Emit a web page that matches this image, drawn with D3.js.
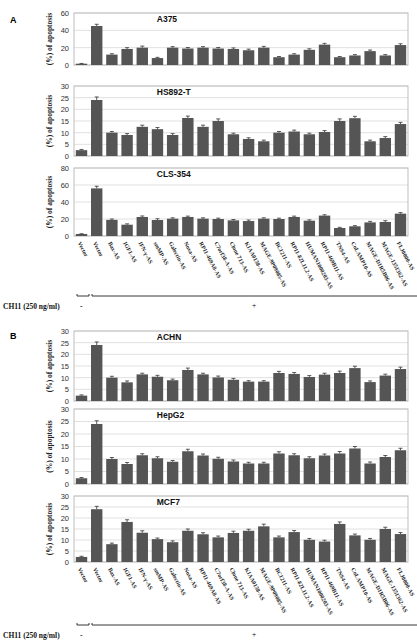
<!DOCTYPE html>
<html>
<head>
<meta charset="utf-8">
<script src="https://cdn.jsdelivr.net/npm/d3@7"></script>
<style>
  html,body{margin:0;padding:0;background:#fff;}
  svg{display:block;}
</style>
</head>
<body>
<div id="chart"></div>
<script>
// categories (same for all six panels)
const categories = ["Vector","Vector","Bax-AS","IGF1-AS","IFN-γ-AS","smMP-AS","Galectin-AS","Noxa-AS",
  "RP11-469A8-AS","C7orf38-A-AS","Clone 713-AS","KIAA0138-AS","MAGE-9P09085-AS","BC1211-AS",
  "RP11-82L11.2-AS","HUMAN1000203-AS","RP11-469B11-AS","TNS4-AS","CoLAMP10-AS","MAGE-D1R5B06-AS",
  "MAGE-1351362-AS","FLJ0000-AS"];

// % apoptosis per cell line
const a375    = [1.5,45,12,18.5,20,8,20,19,20,19,18.5,17,20,9,12,17.5,23.5,9,11,16,11,23];
const a375Err = [0.3,2,1,1.5,1.8,0.8,1.2,1.2,1.2,1.2,1.2,1.3,1.5,0.8,1,1.2,1.5,0.8,1,1.3,1,1.5];
const hs892    = [2.5,24,10,9,12.5,11.5,9,16.3,12.5,15,9.3,7.3,6.3,10,10.5,9.3,10.3,15,16.2,6.3,7.7,13.7];
const hs892Err = [0.3,1.3,0.5,0.6,0.7,0.7,0.6,0.8,0.7,0.9,0.5,0.5,0.5,0.5,0.6,0.5,0.6,0.9,0.8,0.5,0.6,0.7];
const cls354    = [2.4,56,19,13.3,22.4,18.8,20.4,22.4,20.4,20,18.4,17.6,20.4,20,22.4,18,24,9.4,11.4,16,16.5,26.3];
const cls354Err = [0.3,2.5,1,1,1.2,1.5,1,1,1,1,1,1.2,1,1,1,1,1,0.8,0.8,1.2,1.5,1.2];
const achn    = [2.3,24,10,8,11.4,10.4,8.9,13.3,11.4,10.1,9.1,8.3,8.3,12,11.6,10.3,11.3,12,14.1,8.1,10.9,13.7];
const achnErr = [0.3,1.3,0.6,0.6,0.5,0.6,0.5,0.8,0.5,0.6,0.6,0.4,0.4,0.7,0.6,0.6,0.6,0.8,0.8,0.5,0.6,0.8];
const hepg2    = [2.3,24,10,8,11.5,10.3,8.9,13.1,11.4,10.1,9,8.2,8.2,12.2,11.5,10.3,11.4,12.2,14.2,8.2,10.8,13.5];
const hepg2Err = [0.3,1.3,0.6,0.6,0.6,0.6,0.5,0.8,0.6,0.6,0.6,0.5,0.5,0.7,0.6,0.6,0.6,0.8,0.8,0.6,0.6,0.8];
const mcf7    = [2.3,24,8.1,18.2,13.3,10.4,9,14.2,12.6,11.2,13.2,14.2,16.2,11.2,13.6,10.1,9.3,17.3,12.1,10.1,15,12.7];
const mcf7Err = [0.3,1.3,0.5,1,0.9,0.5,0.6,0.8,0.7,0.6,0.8,0.7,1,0.6,0.7,0.6,0.6,0.9,0.6,0.6,0.8,0.7];

const W = 417, H = 641;
const svg = d3.select("#chart").append("svg").attr("width", W).attr("height", H);
const x = d3.scaleBand().domain(d3.range(categories.length)).range([74, 408]).paddingInner(0.25).paddingOuter(0.12);

const SANS = "'Liberation Sans', Arial, sans-serif";
const SERIF = "'Liberation Serif', 'Times New Roman', serif";
const BAR = "#555555";

function panel(title, vals, errs, top, bottom, max, step, showLabels){
  const y = d3.scaleLinear().domain([0, max]).range([bottom, top]);
  const g = svg.append("g");
  const ticks = d3.range(0, max + step/2, step);

  // gridlines
  g.selectAll("line.grid").data(ticks).join("line")
    .attr("x1", 74).attr("x2", 408).attr("y1", d => y(d)).attr("y2", d => y(d))
    .attr("stroke", "#d9d9d9").attr("stroke-width", 0.8);
  g.append("rect").attr("x", 74).attr("y", top).attr("width", 334).attr("height", bottom - top)
    .attr("fill", "none").attr("stroke", "#bdbdbd").attr("stroke-width", 1);

  // y axis
  const ax = g.append("g").attr("transform", "translate(74,0)")
    .call(d3.axisLeft(y).tickValues(ticks).tickSize(0).tickPadding(5));
  ax.select(".domain").remove();
  ax.selectAll("text").attr("font-family", SANS).attr("font-size", 7.5).attr("fill", "#333");

  g.append("text").attr("transform", `translate(52,${(top+bottom)/2}) rotate(-90)`)
    .attr("text-anchor", "middle").attr("font-family", SERIF).attr("font-weight", "bold")
    .attr("font-size", 7.5).attr("fill", "#222").text("(%) of apoptosis");

  // bars
  g.selectAll("rect.bar").data(vals).join("rect")
    .attr("x", (d,i) => x(i)).attr("width", x.bandwidth())
    .attr("y", d => y(d)).attr("height", d => bottom - y(d)).attr("fill", BAR);
  // error bars
  const eb = g.selectAll("g.eb").data(vals).join("g");
  eb.append("line").attr("x1", (d,i) => x(i) + x.bandwidth()/2).attr("x2", (d,i) => x(i) + x.bandwidth()/2)
    .attr("y1", d => y(d)).attr("y2", (d,i) => y(d + errs[i])).attr("stroke", "#333").attr("stroke-width", 0.8);
  eb.append("line").attr("x1", (d,i) => x(i) + x.bandwidth()/2 - 2).attr("x2", (d,i) => x(i) + x.bandwidth()/2 + 2)
    .attr("y1", (d,i) => y(d + errs[i])).attr("y2", (d,i) => y(d + errs[i])).attr("stroke", "#333").attr("stroke-width", 0.8);

  g.append("text").attr("x", x(5) + 5).attr("y", top + 9).attr("font-family", SANS).attr("font-weight", "bold")
    .attr("font-size", 8.5).attr("fill", "#111").text(title);

  if (showLabels) {
    g.selectAll("text.cat").data(categories).join("text")
      .attr("transform", (d,i) => `translate(${x(i) + x.bandwidth()/2 - 4},${bottom + 7}) rotate(62)`)
      .attr("font-family", SERIF).attr("font-weight", "bold").attr("font-size", 5.8).attr("fill", "#222")
      .text(d => d);
  }
}

function treatment(yLine){
  const g = svg.append("g");
  const br = (x1, x2) => g.append("path")
    .attr("d", `M${x1},${yLine-2}V${yLine}H${x2}V${yLine-2}`)
    .attr("fill", "none").attr("stroke", "#222").attr("stroke-width", 0.9);
  br(77, 89);
  br(92, 418);
  g.append("text").attr("x", 3).attr("y", yLine + 13).attr("font-family", SERIF).attr("font-weight", "bold")
    .attr("font-size", 7.5).attr("fill", "#111").text("CH11 (250 ng/ml)");
  g.append("text").attr("x", 80).attr("y", yLine + 13).attr("font-family", SERIF).attr("font-size", 7.5).text("-");
  g.append("text").attr("x", 252).attr("y", yLine + 12).attr("font-family", SERIF).attr("font-size", 7.5).text("+");
}

svg.append("text").attr("x", 10).attr("y", 23).attr("font-family", SANS).attr("font-weight", "bold").attr("font-size", 9).text("A");
svg.append("text").attr("x", 10).attr("y", 339).attr("font-family", SANS).attr("font-weight", "bold").attr("font-size", 9).text("B");

panel("A375",    a375,   a375Err,   13,  65,  60, 20, false);
panel("HS892-T", hs892,  hs892Err,  86,  156, 30, 5,  false);
panel("CLS-354", cls354, cls354Err, 168, 236, 80, 20, true);
treatment(296);

panel("ACHN",  achn,  achnErr,  331, 401, 30, 5, false);
panel("HepG2", hepg2, hepg2Err, 409, 484, 30, 5, false);
panel("MCF7",  mcf7,  mcf7Err,  496, 562, 30, 5, true);
treatment(625);
</script>
</body>
</html>
